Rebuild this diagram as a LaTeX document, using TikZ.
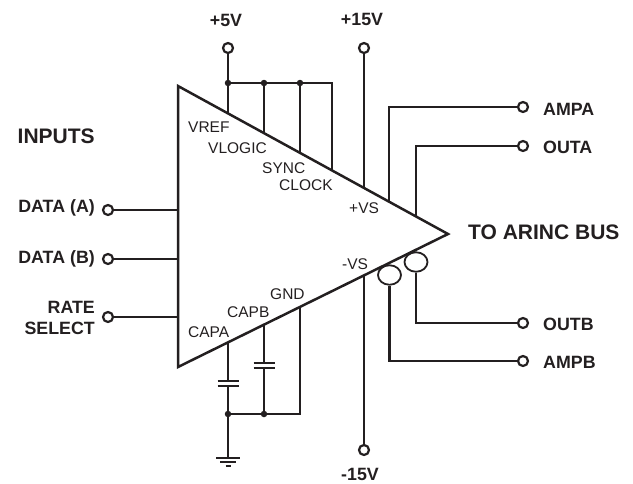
\documentclass[tikz,border=0pt]{standalone}
\usepackage{fontspec}
\setmainfont{Liberation Sans}
\usetikzlibrary{calc,shapes.geometric}
\definecolor{ink}{HTML}{231F20}
\tikzset{
  wire/.style={draw=ink,line width=2.1pt,line cap=butt,line join=miter},
  term/.style={circle,draw=ink,line width=2.2pt,fill=white,inner sep=0pt,minimum size=10pt},
  dot/.style={circle,fill=ink,inner sep=0pt,minimum size=6.5pt},
  hoop/.style={ellipse,draw=ink,line width=1.8pt,inner sep=0pt,minimum width=23pt,minimum height=19.5pt},
  big/.style={font=\bfseries\fontsize{17.8}{20.5}\selectfont,text=ink,inner sep=0pt},
  huge/.style={font=\bfseries\fontsize{21}{23}\selectfont,text=ink,inner sep=0pt},
  pin/.style={font=\fontsize{15.5}{17}\selectfont,text=ink,inner sep=0pt},
}
\begin{document}
\begin{tikzpicture}[x=1pt,y=-1pt]
\useasboundingbox (0,0) rectangle (633,483);
% triangle
\coordinate (tl) at (178,86);
\coordinate (bl) at (178,367);
\coordinate (tip) at (448,234);
\draw[wire,line width=2.5pt] (tl) -- (tip) -- (bl) -- cycle;
% terminals
\node[term] (p5) at (228,48) {};
\node[term] (p15) at (364,48) {};
\node[term] (m15) at (364,450) {};
\node[term] (ampa) at (523,107) {};
\node[term] (outa) at (523,146) {};
\node[term] (outb) at (523,323) {};
\node[term] (ampb) at (523,361) {};
\node[term] (da) at (108,210) {};
\node[term] (db) at (108,259) {};
\node[term] (rs) at (108,317) {};
% left wires
\coordinate (dae) at (178,210);
\coordinate (dbe) at (178,259);
\coordinate (rse) at (178,317);
\draw[wire] (da) -- (dae);
\draw[wire] (db) -- (dbe);
\draw[wire] (rs) -- (rse);
% top bus
\node[dot] (j1) at (228,83) {};
\node[dot] (j2) at (264,83) {};
\node[dot] (j3) at (300,83) {};
\coordinate (j4) at (332,83);
\coordinate (vref) at (228,113.4);
\coordinate (vlog) at (264,133.1);
\coordinate (sync) at (300,152.9);
\coordinate (clk) at (332,170.4);
\coordinate (vsp) at (364,188);
\draw[wire] (p5) -- (j1.center) -- (vref);
\draw[wire] (j2.center) -- (vlog);
\draw[wire] (j3.center) -- (sync);
\draw[wire] (j1.center) -- (j4) -- (clk);
\draw[wire] (p15) -- (vsp);
% AMPA / OUTA
\coordinate (a1) at (389,201.7);
\coordinate (a2) at (389,107);
\coordinate (o1) at (416,216.5);
\coordinate (o2) at (416,146);
\draw[wire] (a1) -- (a2) -- (ampa);
\draw[wire] (o1) -- (o2) -- (outa);
% -VS
\coordinate (vsm) at (364,275.5);
\draw[wire] (vsm) -- (m15);
% hoops
\node[hoop] (h1) at (416,262) {};
\node[hoop] (h2) at (389.5,275) {};
\coordinate (b1) at (416,323);
\coordinate (b2) at (389.5,361);
\draw[wire] (h1.south) -- (b1) -- (outb);
\draw[wire] (h2.south) -- (b2) -- (ampb);
% capacitors and ground
\coordinate (capa) at (228,342.4);
\coordinate (capb) at (264,324.6);
\coordinate (gnd) at (300,307);
\coordinate (ca1) at (228,381);
\coordinate (ca2) at (228,386);
\coordinate (cb1) at (264,363);
\coordinate (cb2) at (264,368);
\node[dot] (k1) at (228,414) {};
\node[dot] (k2) at (264,414) {};
\coordinate (k3) at (300,414);
\coordinate (g0) at (228,458);
\draw[wire] (capa) -- (ca1);
\draw[wire] (ca2) -- (k1.center);
\draw[wire] (capb) -- (cb1);
\draw[wire] (cb2) -- (k2.center);
\draw[wire] (gnd) -- (k3) -- (k1.center);
\draw[wire] (k1.center) -- (g0);
\draw[wire] ($(ca1)+(-10.5,0)$) -- ($(ca1)+(10.5,0)$);
\draw[wire] ($(ca2)+(-10.5,0)$) -- ($(ca2)+(10.5,0)$);
\draw[wire] ($(cb1)+(-10.5,0)$) -- ($(cb1)+(10.5,0)$);
\draw[wire] ($(cb2)+(-10.5,0)$) -- ($(cb2)+(10.5,0)$);
\draw[wire,line width=1.8pt] ($(g0)+(-12,0)$) -- ($(g0)+(12,0)$);
\draw[wire,line width=1.8pt] ($(g0)+(-8,3.8)$) -- ($(g0)+(8,3.8)$);
\draw[wire,line width=1.8pt] ($(g0)+(-2.5,7.6)$) -- ($(g0)+(2.5,7.6)$);
% big labels
\node[big] (l5) at (226,20) {+5V};
\node[big] (l15) at (362,19) {+15V};
\node[big] (lm15) at (360,474.5) {-15V};
\node[huge,anchor=west] (linp) at (17.5,136) {INPUTS};
\node[big,anchor=east] (lda) at (95,208) {DATA (A)};
\node[big,anchor=east] (ldb) at (95,259) {DATA (B)};
\node[big,anchor=east,align=right] (lrs) at (95,318) {RATE\\SELECT};
\node[big,anchor=west] (lampa) at (543,109) {AMPA};
\node[big,anchor=west] (louta) at (543,147.5) {OUTA};
\node[huge,anchor=west] (lbus) at (468,232) {TO ARINC BUS};
\node[big,anchor=west] (loutb) at (543,324) {OUTB};
\node[big,anchor=west] (lampb) at (543,362) {AMPB};
% pin labels
\node[pin,anchor=west] (t1) at (188,127) {VREF};
\node[pin,anchor=west] (t2) at (208,148) {VLOGIC};
\node[pin,anchor=west] (t3) at (262,168) {SYNC};
\node[pin,anchor=west] (t4) at (279,185) {CLOCK};
\node[pin,anchor=west] (t5) at (349,208) {+VS};
\node[pin,anchor=west] (t6) at (342,264) {-VS};
\node[pin,anchor=west] (t7) at (188,332) {CAPA};
\node[pin,anchor=west] (t8) at (227,312) {CAPB};
\node[pin,anchor=west] (t9) at (270,294) {GND};
\end{tikzpicture}
\end{document}
